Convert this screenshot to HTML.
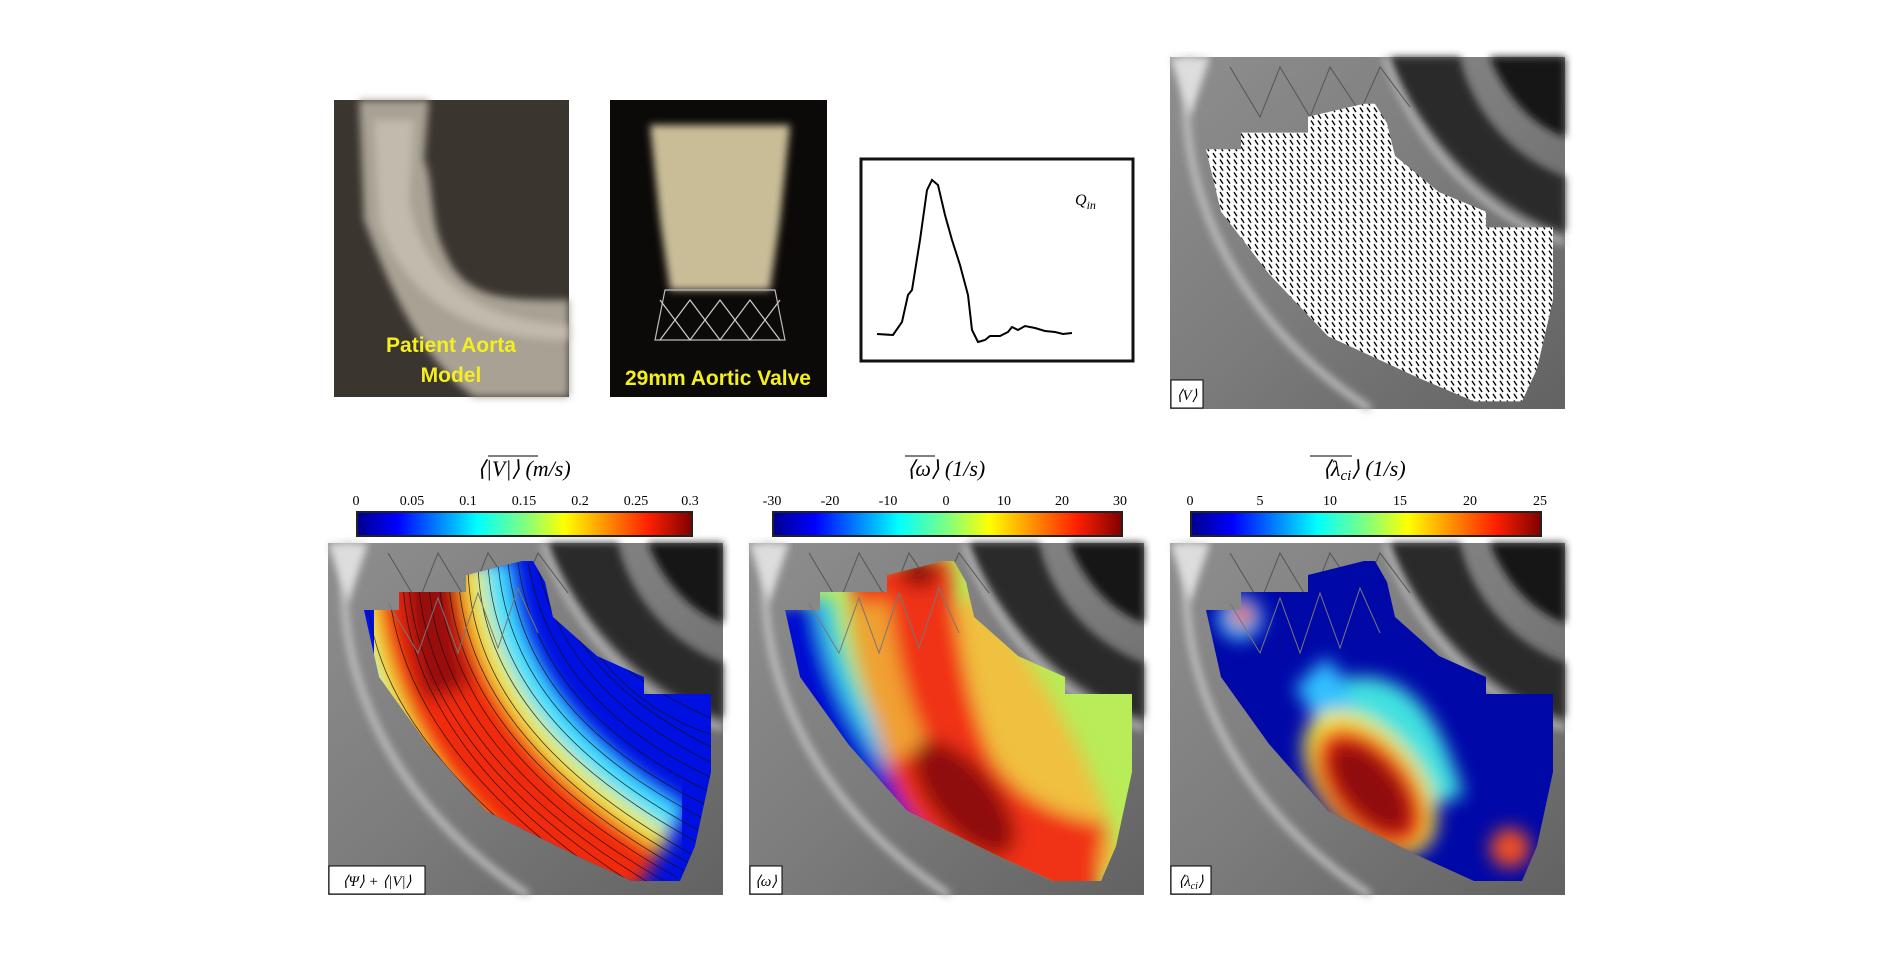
<!DOCTYPE html>
<html><head><meta charset="utf-8"><style>
html,body{margin:0;padding:0;background:#fff;}
svg{display:block}
</style></head><body>
<svg width="1902" height="960" viewBox="0 0 1902 960" xmlns="http://www.w3.org/2000/svg" font-family="Liberation Serif, serif">
<defs>
<linearGradient id="jet" x1="0" x2="1" y1="0" y2="0">
<stop offset="0" stop-color="#00008f"/><stop offset="0.12" stop-color="#0000ff"/><stop offset="0.36" stop-color="#00ffff"/><stop offset="0.5" stop-color="#80ff80"/><stop offset="0.62" stop-color="#ffff00"/><stop offset="0.87" stop-color="#ff2000"/><stop offset="1" stop-color="#800000"/>
</linearGradient>
<linearGradient id="bg" x1="0" y1="0" x2="1" y2="1">
<stop offset="0" stop-color="#8e8e8e"/><stop offset="0.5" stop-color="#7c7c7c"/><stop offset="1" stop-color="#626262"/>
</linearGradient>
<filter id="bl" x="-20%" y="-20%" width="140%" height="140%"><feGaussianBlur stdDeviation="9"/></filter>
<filter id="bl2"><feGaussianBlur stdDeviation="4"/></filter>
<clipPath id="reg"><path d="M194 18 L205 18 L217 39 L225 74 L269 113 L316 134 L316 151 L383 151 L383 229 L367 303 L352 338 L304 338 L249 313 L158 268 L99 201 L51 134 L36 67 L71 67 L71 49 L138 49 L138 32 Z"/></clipPath>
<g id="gray">
<rect x="0" y="0" width="395" height="352" fill="url(#bg)"/>
<path d="M220 0 C250 80 320 150 395 175 L395 120 C340 100 300 50 290 0 Z" fill="#2a2a2a" filter="url(#bl2)"/>
<path d="M320 0 C335 40 365 70 395 80 L395 0 Z" fill="#151515" filter="url(#bl2)"/>
<path d="M215 0 C245 90 320 165 395 185" fill="none" stroke="#c4c4c4" stroke-width="5" filter="url(#bl2)"/>
<path d="M20 0 C0 120 60 260 200 352" fill="none" stroke="#c0c0c0" stroke-width="7" filter="url(#bl2)"/>
<path d="M0 0 L40 0 L20 60 Z" fill="#ddd" filter="url(#bl2)"/>
<path d="M60 10 L90 60 L110 10 L140 60 L160 10 L190 55 L210 10 L240 50" fill="none" stroke="#555" stroke-width="1"/>
</g>
<pattern id="arr" width="7" height="7" patternUnits="userSpaceOnUse"><path d="M1 1 L4 6" stroke="#000" stroke-width="1.4"/></pattern>
</defs>

<!-- Aorta photo -->
<g transform="translate(334,100)">
<rect width="235" height="297" fill="#2e2a25"/>
<rect width="235" height="297" fill="#46403a" opacity="0.5"/>
<path d="M25 0 L95 0 L90 60 C100 80 95 120 110 150 C130 200 170 200 235 200 L235 297 L140 297 C90 260 60 200 30 120 Z" fill="#a8a194" filter="url(#bl2)"/>
<path d="M40 20 L80 20 L75 100 C90 180 140 220 235 225 L235 240 C140 240 70 200 45 120 Z" fill="#cdc6b8" opacity="0.7" filter="url(#bl2)"/>
<text x="117" y="252" text-anchor="middle" fill="#f4ef1f" font-family="Liberation Sans, sans-serif" font-weight="bold" font-size="21">Patient Aorta</text>
<text x="117" y="282" text-anchor="middle" fill="#f4ef1f" font-family="Liberation Sans, sans-serif" font-weight="bold" font-size="21">Model</text>
</g>

<!-- Valve photo -->
<g transform="translate(610,100)">
<rect width="217" height="297" fill="#0c0a08"/>
<path d="M40 25 L180 25 L170 120 L160 190 L60 190 L50 120 Z" fill="#c9bd98" filter="url(#bl2)"/>
<path d="M55 190 L165 190 L175 240 L45 240 Z" fill="none" stroke="#bbb" stroke-width="1.2"/>
<path d="M50 200 L80 240 L110 200 L140 240 L170 200 M50 240 L80 200 L110 240 L140 200 L170 240" fill="none" stroke="#ccc" stroke-width="1.2"/>
<text x="108" y="285" text-anchor="middle" fill="#f4ef1f" font-family="Liberation Sans, sans-serif" font-weight="bold" font-size="21">29mm Aortic Valve</text>
</g>

<!-- Qin plot -->
<rect x="861" y="159" width="272" height="202" fill="#fff" stroke="#111" stroke-width="3"/>
<path d="M877 334 L893 335 L902 322 L908 295 L912 290 L920 240 L927 190 L932 180 L938 185 L945 215 L952 240 L960 265 L968 295 L972 330 L978 342 L985 340 L990 336 L1000 336 L1008 332 L1012 327 L1018 330 L1025 326 L1035 328 L1045 331 L1055 332 L1063 334 L1072 333" fill="none" stroke="#000" stroke-width="2"/>
<text x="1075" y="205" font-style="italic" font-size="16">Q<tspan font-size="12" dy="4">in</tspan></text>

<!-- V panel -->
<g transform="translate(1170,57)">
<use href="#gray"/>
<path d="M194 18 L205 18 L217 39 L225 74 L269 113 L316 134 L316 151 L383 151 L383 229 L367 303 L352 338 L304 338 L249 313 L158 268 L99 201 L51 134 L36 67 L71 67 L71 49 L138 49 L138 32 Z" transform="translate(0,30) scale(1,0.93)" fill="#fff"/>
<path d="M194 18 L205 18 L217 39 L225 74 L269 113 L316 134 L316 151 L383 151 L383 229 L367 303 L352 338 L304 338 L249 313 L158 268 L99 201 L51 134 L36 67 L71 67 L71 49 L138 49 L138 32 Z" transform="translate(0,30) scale(1,0.93)" fill="url(#arr)"/>
<rect x="1" y="323" width="32" height="28" fill="#fff" stroke="#000"/>
<text x="17" y="343" text-anchor="middle" font-size="15" font-style="italic">⟨V⟩</text>
</g>

<!-- Colorbars -->
<g font-size="14" text-anchor="middle">
<text x="524" y="476" font-size="22" font-style="italic">⟨|V|⟩ (m/s)</text>
<line x1="488" y1="456" x2="538" y2="456" stroke="#000"/>
<g><text x="356" y="505">0</text><text x="412" y="505">0.05</text><text x="468" y="505">0.1</text><text x="524" y="505">0.15</text><text x="580" y="505">0.2</text><text x="636" y="505">0.25</text><text x="690" y="505">0.3</text></g>
<rect x="357" y="512" width="335" height="24" fill="url(#jet)" stroke="#222" stroke-width="2"/>

<text x="946" y="476" font-size="22" font-style="italic">⟨ω⟩ (1/s)</text>
<line x1="905" y1="456" x2="935" y2="456" stroke="#000"/>
<g><text x="772" y="505">-30</text><text x="830" y="505">-20</text><text x="888" y="505">-10</text><text x="946" y="505">0</text><text x="1004" y="505">10</text><text x="1062" y="505">20</text><text x="1120" y="505">30</text></g>
<rect x="773" y="512" width="349" height="24" fill="url(#jet)" stroke="#222" stroke-width="2"/>

<text x="1364" y="476" font-size="22" font-style="italic">⟨λ<tspan font-size="15" dy="4">ci</tspan><tspan dy="-4">⟩ (1/s)</tspan></text>
<line x1="1310" y1="456" x2="1352" y2="456" stroke="#000"/>
<g><text x="1190" y="505">0</text><text x="1260" y="505">5</text><text x="1330" y="505">10</text><text x="1400" y="505">15</text><text x="1470" y="505">20</text><text x="1540" y="505">25</text></g>
<rect x="1191" y="512" width="350" height="24" fill="url(#jet)" stroke="#222" stroke-width="2"/>
</g>

<!-- Panel 1 -->
<g transform="translate(328,543)">
<use href="#gray"/>
<g clip-path="url(#reg)">
<rect width="395" height="352" fill="#0010e0"/>
<g filter="url(#bl)">
<path d="M90 20 C95 150 170 260 310 345" fill="none" stroke="#40e0ff" stroke-width="190"/>
<path d="M90 20 C95 150 170 260 310 345" fill="none" stroke="#f0f040" stroke-width="130"/>
<path d="M90 20 C95 150 170 260 310 345" fill="none" stroke="#f02a10" stroke-width="90"/>
<path d="M100 20 C100 80 110 120 120 150" fill="none" stroke="#9a0a08" stroke-width="50"/>
</g>
<g fill="none" stroke="#111" stroke-width="0.8" opacity="0.8">
<path d="M40 60 C50 160 130 260 280 360"/><path d="M60 40 C70 160 150 260 300 360"/><path d="M80 30 C85 150 165 255 320 350"/><path d="M100 20 C100 140 180 250 340 340"/><path d="M120 20 C120 135 195 240 360 330"/><path d="M140 20 C140 130 210 230 380 320"/><path d="M160 20 C165 120 225 215 395 300"/><path d="M180 20 C190 110 240 200 395 270"/><path d="M200 20 C215 100 260 180 395 240"/><path d="M220 30 C240 100 290 160 395 210"/><path d="M240 60 C270 110 320 150 395 180"/><path d="M75 40 C80 150 155 258 310 355"/><path d="M110 20 C112 138 188 245 350 335"/><path d="M150 20 C152 125 218 222 390 310"/><path d="M190 20 C202 105 250 190 395 255"/><path d="M230 40 C255 105 305 170 395 195"/>
<path d="M170 20 C178 115 232 208 395 285"/><path d="M210 25 C228 100 275 170 395 225"/><path d="M130 20 C130 132 202 235 370 325"/><path d="M90 25 C92 145 172 252 330 345"/>
</g>
</g>
<path d="M60 60 L90 110 L110 55 L130 110 L150 50 L170 105 L190 45 L210 90" fill="none" stroke="#777" stroke-width="1"/>
<rect x="1" y="323" width="96" height="28" fill="#fff" stroke="#000"/>
<text x="49" y="343" text-anchor="middle" font-size="15" font-style="italic">⟨Ψ⟩ + ⟨|V|⟩</text>
</g>

<!-- Panel 2 -->
<g transform="translate(749,543)">
<use href="#gray"/>
<g clip-path="url(#reg)">
<rect width="395" height="352" fill="#b8ec58"/>
<g filter="url(#bl)">
<path d="M200 70 C260 160 320 250 330 330" fill="none" stroke="#f0c040" stroke-width="80"/>
<path d="M45 60 C55 170 125 270 270 355" fill="none" stroke="#0010d0" stroke-width="70"/>
<path d="M75 55 C90 170 155 265 295 345" fill="none" stroke="#40d0f0" stroke-width="18"/>
<path d="M150 20 C160 100 170 180 200 240 C230 290 280 320 350 330" fill="none" stroke="#f03018" stroke-width="100"/>
<path d="M120 60 C130 140 150 190 160 210" fill="none" stroke="#f0a030" stroke-width="40"/>
<ellipse cx="215" cy="255" rx="32" ry="70" transform="rotate(-40 215 255)" fill="#900a08"/>
<ellipse cx="170" cy="30" rx="20" ry="15" fill="#901008"/>
</g>
</g>
<path d="M60 60 L90 110 L110 55 L130 110 L150 50 L170 105 L190 45 L210 90" fill="none" stroke="#777" stroke-width="1"/>
<rect x="1" y="323" width="32" height="28" fill="#fff" stroke="#000"/>
<text x="17" y="343" text-anchor="middle" font-size="15" font-style="italic">⟨ω⟩</text>
</g>

<!-- Panel 3 -->
<g transform="translate(1170,543)">
<use href="#gray"/>
<g clip-path="url(#reg)">
<rect width="395" height="352" fill="#0008a8"/>
<g filter="url(#bl)">
<path d="M140 130 C160 150 170 180 180 200" fill="none" stroke="#30c0ff" stroke-width="45"/>
<path d="M180 160 C230 150 250 200 270 260" fill="none" stroke="#40e0e0" stroke-width="50"/>
<ellipse cx="200" cy="240" rx="50" ry="85" transform="rotate(-40 200 240)" fill="#f0f040"/>
<ellipse cx="200" cy="245" rx="42" ry="72" transform="rotate(-40 200 245)" fill="#f03018"/>
<ellipse cx="200" cy="245" rx="28" ry="55" transform="rotate(-40 200 245)" fill="#900808"/>
<circle cx="340" cy="305" r="20" fill="#f05020"/>
<circle cx="70" cy="75" r="22" fill="#30c0ff"/>
<circle cx="72" cy="72" r="12" fill="#f05020"/>
</g>
</g>
<path d="M60 60 L90 110 L110 55 L130 110 L150 50 L170 105 L190 45 L210 90" fill="none" stroke="#777" stroke-width="1"/>
<rect x="1" y="323" width="40" height="28" fill="#fff" stroke="#000"/>
<text x="21" y="343" text-anchor="middle" font-size="15" font-style="italic">⟨λ<tspan font-size="10" dy="3">ci</tspan><tspan dy="-3">⟩</tspan></text>
</g>
</svg>
</body></html>
